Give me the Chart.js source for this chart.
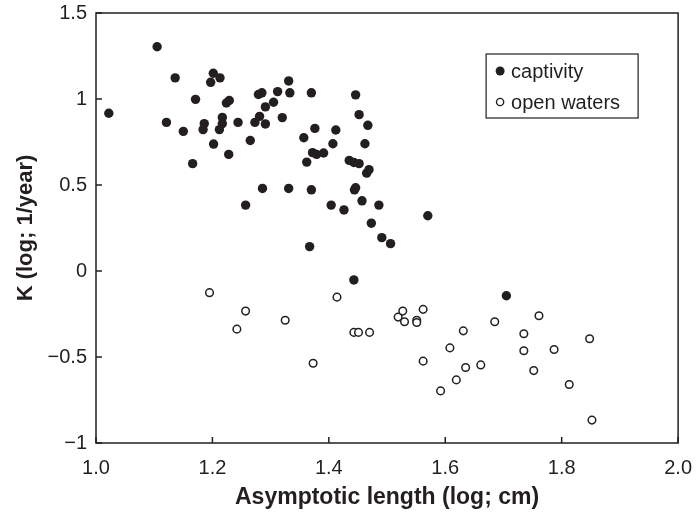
<!DOCTYPE html>
<html>
<head>
<meta charset="utf-8">
<script src="https://cdn.jsdelivr.net/npm/chart.js@4.4.1/dist/chart.umd.min.js"></script>
<style>
  html, body { margin: 0; padding: 0; background: #fff; }
  #wrap { width: 697px; height: 521px; }
</style>
</head>
<body>
<div id="wrap"><canvas id="myChart" width="697" height="521"></canvas></div>
<script>
// captivity (filled dots)
const captivityX = [1.022, 1.105, 1.121, 1.136, 1.150, 1.166, 1.171, 1.184, 1.186, 1.197,
  1.2015, 1.202, 1.212, 1.213, 1.217, 1.217, 1.224, 1.228, 1.229, 1.244,
  1.257, 1.265, 1.273, 1.279, 1.281, 1.285, 1.286, 1.291, 1.291, 1.305,
  1.312, 1.320, 1.331, 1.331, 1.333, 1.357, 1.362, 1.367, 1.370, 1.370,
  1.372, 1.376, 1.379, 1.391, 1.404, 1.407, 1.412, 1.426, 1.435, 1.443,
  1.443, 1.444, 1.446, 1.446, 1.452, 1.452, 1.457, 1.462, 1.465, 1.467,
  1.469, 1.473, 1.486, 1.491, 1.506, 1.570, 1.705];
const captivityY = [0.917, 1.304, 0.864, 1.123, 0.812, 0.624, 0.998, 0.822, 0.857, 1.097,
  1.150, 0.738, 0.822, 1.123, 0.893, 0.857, 0.977, 0.678, 0.991, 0.864,
  0.383, 0.759, 0.864, 1.026, 0.899, 1.036, 0.480, 0.954, 0.855, 0.981,
  1.043, 0.892, 1.105, 0.480, 1.036, 0.775, 0.633, 0.142, 1.036, 0.472,
  0.688, 0.829, 0.678, 0.686, 0.383, 0.740, 0.820, 0.355, 0.643, 0.631,
  -0.052, 0.472, 1.024, 0.484, 0.909, 0.624, 0.408, 0.740, 0.569, 0.847,
  0.589, 0.278, 0.383, 0.194, 0.159, 0.321, -0.144];

// open waters (hollow dots)
const openX = [1.195, 1.257, 1.242, 1.325, 1.373, 1.414, 1.443, 1.451, 1.470, 1.519,
  1.527, 1.530, 1.551, 1.551, 1.562, 1.562, 1.592, 1.608, 1.619, 1.631,
  1.635, 1.661, 1.685, 1.735, 1.735, 1.752, 1.761, 1.787, 1.813, 1.848, 1.852];
const openY = [-0.126, -0.233, -0.338, -0.286, -0.536, -0.152, -0.357, -0.357, -0.357, -0.268,
  -0.233, -0.295, -0.286, -0.299, -0.223, -0.524, -0.697, -0.447, -0.633, -0.348,
  -0.561, -0.546, -0.295, -0.365, -0.464, -0.579, -0.260, -0.456, -0.660, -0.394, -0.867];

const seriesNames = ['captivity', 'open waters'];
const xTicks = [1.0, 1.2, 1.4, 1.6, 1.8, 2.0];
const yTicks = [1.5, 1, 0.5, 0, -0.5, -1];

const ink = '#231f20';
const fontFam = '"Liberation Sans", Arial, Helvetica, sans-serif';

function toPoints(xs, ys) {
  return xs.map((x, i) => ({ x: x, y: ys[i] }));
}

// frame, inward ticks and boxed legend
const framePlugin = {
  id: 'frame',
  afterDraw(chart) {
    let ctx = chart.ctx, a = chart.chartArea;
    let xs = chart.scales.x, ys = chart.scales.y;
    ctx.save();
    ctx.strokeStyle = ink;
    ctx.lineWidth = 1.5;
    ctx.strokeRect(a.left, a.top, a.right - a.left, a.bottom - a.top);
    ctx.beginPath();
    xTicks.forEach(v => {
      let px = xs.getPixelForValue(v);
      ctx.moveTo(px, a.bottom);
      ctx.lineTo(px, a.bottom - 6);
    });
    yTicks.forEach(v => {
      let py = ys.getPixelForValue(v);
      ctx.moveTo(a.left, py);
      ctx.lineTo(a.left + 6, py);
    });
    ctx.stroke();

    // legend box
    let bx = a.right - 192, by = a.top + 41, bw = 152, bh = 64;
    ctx.fillStyle = '#fff';
    ctx.fillRect(bx, by, bw, bh);
    ctx.lineWidth = 1.2;
    ctx.strokeRect(bx, by, bw, bh);
    ctx.font = '20px ' + fontFam;
    ctx.textBaseline = 'middle';
    chart.data.datasets.forEach((ds, i) => {
      let cy = by + 17 + i * 31;
      ctx.beginPath();
      ctx.arc(bx + 14, cy, i == 0 ? 4.5 : 3.6, 0, Math.PI * 2);
      ctx.fillStyle = ds.backgroundColor;
      ctx.fill();
      if (ds.borderWidth) {
        ctx.lineWidth = 1.4;
        ctx.strokeStyle = ink;
        ctx.stroke();
      }
      ctx.fillStyle = ink;
      ctx.fillText(ds.label, bx + 25, cy + 1);
    });
    ctx.restore();
  }
};

let ctx = document.querySelector('#myChart').getContext('2d');
let myChart = new Chart(ctx, {
  type: 'scatter',
  data: {
    datasets: [{
      label: seriesNames[0],
      data: toPoints(captivityX, captivityY),
      backgroundColor: ink,
      borderWidth: 0,
      pointRadius: 4.7
    }, {
      label: seriesNames[1],
      data: toPoints(openX, openY),
      backgroundColor: '#fff',
      borderColor: ink,
      borderWidth: 1.5,
      pointRadius: 3.8
    }]
  },
  options: {
    responsive: false,
    animation: false,
    layout: { padding: { top: 11, right: 11, left: 0, bottom: 0 } },
    plugins: {
      legend: { display: false },
      tooltip: { enabled: false }
    },
    scales: {
      x: {
        type: 'linear',
        min: 1, max: 2,
        afterFit: s => { s.height = 78; },
        afterBuildTicks: s => { s.ticks = xTicks.map(v => ({ value: v })); },
        grid: { display: false },
        border: { display: false },
        ticks: {
          color: ink,
          padding: 5,
          font: { family: fontFam, size: 20 },
          maxRotation: 0,
          callback: v => Number(v).toFixed(1)
        },
        title: {
          display: true,
          text: 'Asymptotic length (log; cm)',
          color: ink,
          padding: { top: 0, bottom: 10 },
          font: { family: fontFam, size: 23, weight: 'bold' }
        }
      },
      y: {
        type: 'linear',
        min: -1, max: 1.5,
        afterFit: s => { s.width = 96; },
        afterBuildTicks: s => { s.ticks = yTicks.map(v => ({ value: v })); },
        grid: { display: false },
        border: { display: false },
        ticks: {
          color: ink,
          padding: 1,
          font: { family: fontFam, size: 20 },
          callback: v => String(v).replace('-', '\u2212')
        },
        title: {
          display: true,
          text: 'K (log; 1/year)',
          color: ink,
          padding: { top: 13, bottom: 0 },
          font: { family: fontFam, size: 22, weight: 'bold' }
        }
      }
    }
  },
  plugins: [framePlugin]
});
</script>
</body>
</html>
